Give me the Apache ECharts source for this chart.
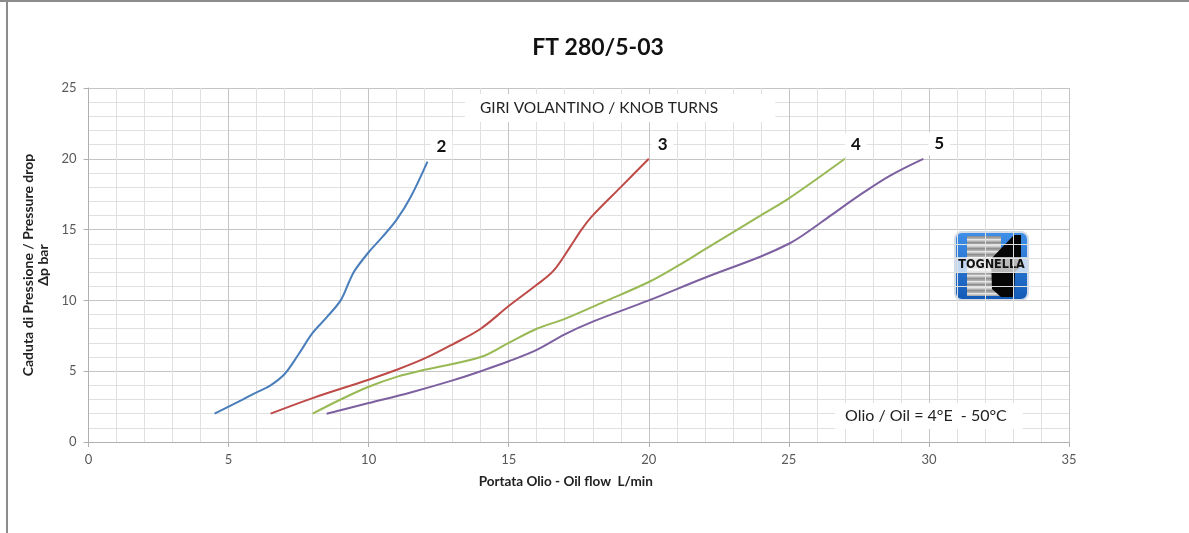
<!DOCTYPE html>
<html>
<head>
<meta charset="utf-8">
<title>FT 280/5-03</title>
<script src="https://cdn.jsdelivr.net/npm/echarts@6/dist/echarts.min.js"></script>
<style>
    html, body { margin: 0; padding: 0; background: #fff; }
    #chart { width: 1189px; height: 533px; }
</style>
</head>
<body>
<div id="chart"></div>
<script>
// knob turns (series names)
const turns = ['2', '3', '4', '5']

// [oil flow L/min, pressure drop bar]
const turn2 = [[4.5, 2], [5, 2.5], [5.5, 3], [6, 3.5], [6.5, 4], [7, 4.8], [7.5, 6.2], [8, 7.7], [8.5, 8.8],
    [9, 10], [9.3, 11.3], [9.5, 12.1], [10, 13.4], [10.5, 14.5], [11, 15.7], [11.5, 17.3], [12.1, 19.8]]
const turn3 = [[6.5, 2], [8, 3.1], [10, 4.4], [11, 5.1], [12, 5.9], [13, 6.9], [14, 8], [15, 9.6], [16, 11.1],
    [16.6, 12.1], [17.2, 13.8], [17.6, 15], [18, 16], [19, 18], [20, 20]]
const turn4 = [[8, 2], [9, 3], [10, 3.9], [11, 4.6], [12, 5.1], [14, 6], [15, 7], [16, 8], [17, 8.7], [18.4, 9.9],
    [20, 11.3], [21, 12.4], [22, 13.6], [23, 14.8], [24, 16], [25, 17.2], [27, 20]]
const turn5 = [[8.5, 2], [10, 2.75], [11.5, 3.5], [13, 4.35], [14, 5], [15, 5.7], [16, 6.5], [17, 7.6], [18, 8.5],
    [20, 10], [22, 11.6], [24, 13.1], [25, 14], [25.5, 14.6], [26.5, 16], [27.5, 17.4], [28.6, 18.8], [29.8, 20]]

const xTicks = [0, 5, 10, 15, 20, 25, 30, 35]
const yTicks = [0, 5, 10, 15, 20, 25]

const curves = [turn2, turn3, turn4, turn5]
const colors = ['#4a7ebb', '#be4b48', '#98b954', '#7d60a0']
const labelOffsets = [[-5, -15], [-5, -14], [-8, -14], [-3, -15]]

const font = 'Lato, "Open Sans", sans-serif'

// TOGNELLA logo, drawn with plain shapes
const lx = 955, ly = 232
const stripes = []
for (let i = 0; i < 20; i++) {
    stripes.push({
        type: 'rect',
        shape: { x: lx + 12, y: ly + 4 + i * 3, width: 34, height: 1.5 },
        style: { fill: i % 2 ? '#e6e6e6' : '#8f8f8f' }
    })
}
const logo = {
    type: 'group',
    children: [
        {
            type: 'rect',
            shape: { x: lx, y: ly, width: 73, height: 68, r: 7 },
            style: {
                fill: new echarts.graphic.LinearGradient(0, 0, 0, 1, [
                    { offset: 0, color: '#3f90ea' },
                    { offset: 1, color: '#1259b5' }
                ]),
                stroke: '#d3dbe6', lineWidth: 2
            }
        },
        {
            type: 'rect',
            shape: { x: lx + 12, y: ly + 4, width: 34, height: 60 },
            style: { fill: '#b0b0b0' }
        },
        ...stripes,
        {
            type: 'polygon',
            shape: { points: [[lx + 36, ly + 27], [lx + 59, ly + 3], [lx + 66, ly + 3], [lx + 66, ly + 34],
                [lx + 60, ly + 40], [lx + 59, ly + 65], [lx + 46, ly + 65], [lx + 37, ly + 57]] },
            style: { fill: '#060606' }
        },
        {
            type: 'rect',
            shape: { x: lx + 1, y: ly + 25, width: 71, height: 15 },
            style: { fill: 'rgba(255,255,255,0.72)' }
        },
        {
            type: 'text',
            style: {
                x: lx + 36.5, y: ly + 33, text: 'TOGNELLA', align: 'center', verticalAlign: 'middle',
                font: 'bold 12.5px "DejaVu Sans Condensed", "Liberation Sans", sans-serif', fill: '#111'
            }
        }
    ]
}

const chart = echarts.init(document.getElementById('chart'))

chart.setOption({
    animation: false,
    backgroundColor: '#fff',
    title: {
        text: 'FT 280/5-03',
        left: 593,
        top: 31,
        textAlign: 'center',
        textStyle: { fontFamily: font, fontSize: 23, fontWeight: 'bold', color: '#111' }
    },
    grid: { left: 88.5, right: 120, top: 88, bottom: 91 },
    xAxis: {
        type: 'value',
        min: xTicks[0],
        max: xTicks[xTicks.length - 1],
        interval: 5,
        name: 'Portata Olio - Oil flow  L/min',
        nameLocation: 'middle',
        nameGap: 33,
        nameTextStyle: { fontFamily: font, fontSize: 13.5, fontWeight: 'bold', color: '#222', padding: [0, 26, 0, 0] },
        axisLine: { lineStyle: { color: '#b0b0b0', width: 1 } },
        axisTick: { show: true, length: 5, lineStyle: { color: '#b0b0b0' } },
        axisLabel: { fontFamily: font, fontSize: 13, color: '#595959', margin: 11 },
        splitLine: { show: true, lineStyle: { color: '#c4c4c4', width: 1 } },
        minorTick: { show: false, splitNumber: 5 },
        minorSplitLine: { show: true, lineStyle: { color: '#e0e0e0', width: 1 } }
    },
    yAxis: {
        type: 'value',
        min: yTicks[0],
        max: yTicks[yTicks.length - 1],
        interval: 5,
        name: 'Caduta di Pressione / Pressure drop\nΔp bar',
        nameLocation: 'middle',
        nameGap: 33,
        nameTextStyle: { fontFamily: font, fontSize: 14, fontWeight: 'bold', color: '#222', lineHeight: 15 },
        axisLine: { show: true, lineStyle: { color: '#b0b0b0', width: 1 } },
        axisTick: { show: true, length: 5, lineStyle: { color: '#b0b0b0' } },
        axisLabel: { fontFamily: font, fontSize: 13, color: '#595959', margin: 12 },
        splitLine: { show: true, lineStyle: { color: '#c4c4c4', width: 1 } },
        minorTick: { show: false, splitNumber: 5 },
        minorSplitLine: { show: true, lineStyle: { color: '#e0e0e0', width: 1 } }
    },
    series: curves.map((data, i) => ({
        name: turns[i],
        type: 'line',
        data: data,
        smooth: 0.35,
        showSymbol: false,
        lineStyle: { color: colors[i], width: 2 },
        itemStyle: { color: colors[i] },
        endLabel: {
            show: true,
            formatter: '{a}',
            offset: labelOffsets[i],
            fontFamily: font,
            fontSize: 17,
            fontWeight: 'bold',
            color: '#111',
            backgroundColor: '#fff',
            padding: [3, 6]
        }
    })),
    graphic: [
        // frame lines of the original sheet
        { type: 'line', shape: { x1: 0, y1: 1, x2: 1189, y2: 1 }, style: { stroke: '#8c8c8c', lineWidth: 2 } },
        { type: 'line', shape: { x1: 7, y1: 0, x2: 7, y2: 533 }, style: { stroke: '#8c8c8c', lineWidth: 2 } },
        {
            type: 'text',
            z: 10,
            style: {
                x: 465, y: 94, text: 'GIRI VOLANTINO / KNOB TURNS',
                font: '15.5px ' + font, fill: '#222',
                backgroundColor: '#fff', padding: [6, 57, 6, 15]
            }
        },
        {
            type: 'text',
            z: 10,
            style: {
                x: 835, y: 403, text: 'Olio / Oil = 4°E  - 50°C',
                font: '16px ' + font, fill: '#222',
                backgroundColor: '#fff', padding: [5, 16, 5, 10]
            }
        },
        logo
    ]
})
</script>
</body>
</html>
